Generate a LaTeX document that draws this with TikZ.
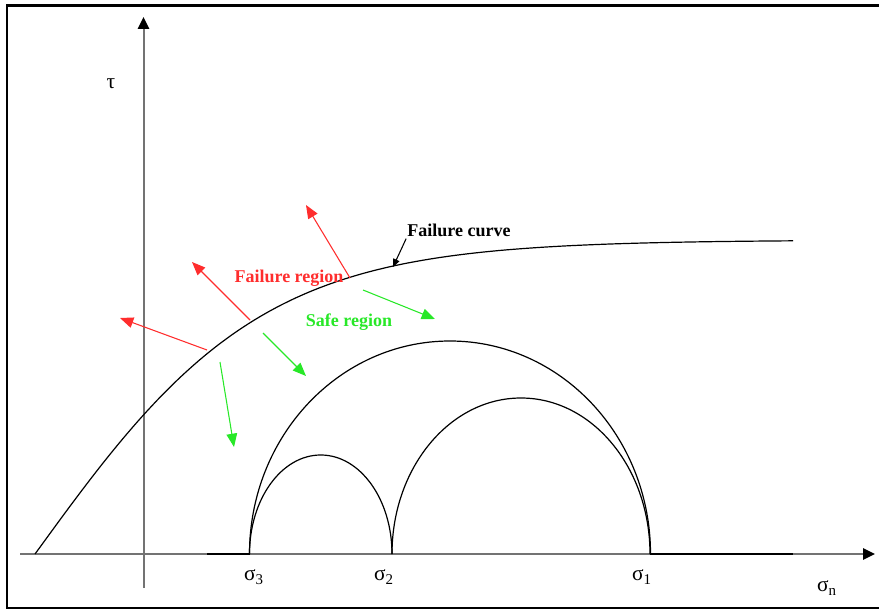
\documentclass[tikz,border=0pt]{standalone}
\usepackage{fontspec}
\setmainfont{Liberation Serif}
\usepackage{tikz}
\usetikzlibrary{arrows.meta}

\definecolor{failred}{RGB}{255,45,45}
\definecolor{safegreen}{RGB}{40,232,40}

\begin{document}
\begin{tikzpicture}[
    x=0.75pt, y=-0.75pt,
    axis/.style={draw=black!55, line width=1.5pt, -{Triangle[length=9pt, width=8.5pt, color=black]}},
    curve/.style={draw=black, line width=0.9pt},
    redarrow/.style={draw=failred, line width=0.8pt, -{Triangle[length=10pt, width=8pt]}},
    greenarrow/.style={draw=safegreen, line width=0.8pt, -{Triangle[length=10pt, width=8pt]}},
    pointer/.style={draw=black, line width=0.8pt, -{Triangle[length=6pt, width=5pt]}},
    regiontext/.style={font=\fontsize{13.5}{16}\selectfont\bfseries, inner sep=0pt},
    greek/.style={font=\fontsize{16}{18}\selectfont, inner sep=0pt}
]
    \useasboundingbox (0,0) rectangle (879,610);

    % Frame
    \draw [line width=1.8pt] (895,5.5) -- (7,5.5) -- (7,608) -- (895,608);

    % Axes
    \draw [axis] (143.5,588) -- (143.5,17);
    \draw [axis] (20,554) -- (875,554);
    \draw [curve] (207,554) -- (250,554);
    \draw [curve] (650,554) -- (793,554);

    % Failure curve
    \draw [curve] plot[domain=35:793, samples=150, smooth] (\x, {554-314*tanh((\x-35)/228)});

    % Mohr circles
    \draw [curve] (249.5,554) arc[start angle=180, end angle=360, x radius=200.5, y radius=213];
    \draw [curve] (249.5,554) arc[start angle=180, end angle=360, x radius=71.25, y radius=99];
    \draw [curve] (392,554) arc[start angle=180, end angle=360, x radius=129, y radius=156];

    % Labels
    \node [greek] (tau) at (111,84) {τ};
    \node [greek] (sigma3) at (254,577) {σ\textsubscript{3}};
    \node [greek] (sigma2) at (384,577) {σ\textsubscript{2}};
    \node [greek] (sigma1) at (642,577) {σ\textsubscript{1}};
    \node [greek] (sigman) at (827,588) {σ\textsubscript{n}};

    \node [regiontext] (failcurve) at (459,230) {Failure curve};
    \node [regiontext, text=failred] (failregion) at (289,278) {Failure region};
    \node [regiontext, text=safegreen] (saferegion) at (349,322) {Safe region};

    % Arrow ends
    \coordinate (r1s) at (207,350);  \coordinate (r1e) at (120,318);
    \coordinate (r2s) at (250,320);  \coordinate (r2e) at (192,262);
    \coordinate (r3s) at (350,278);  \coordinate (r3e) at (306,205);
    \coordinate (g1s) at (220,362);  \coordinate (g1e) at (234,447);
    \coordinate (g2s) at (263,333);  \coordinate (g2e) at (306,376);
    \coordinate (g3s) at (363,290);  \coordinate (g3e) at (435,319);
    \coordinate (ptip) at (393,267);

    % Directions
    \draw [redarrow] (r1s) -- (r1e);
    \draw [redarrow] (r2s) -- (r2e);
    \draw [redarrow] (r3s) -- (r3e);
    \draw [greenarrow] (g1s) -- (g1e);
    \draw [greenarrow] (g2s) -- (g2e);
    \draw [greenarrow] (g3s) -- (g3e);
    \draw [pointer] (failcurve.south west) ++(-1,2) -- (ptip);

\end{tikzpicture}
\end{document}
